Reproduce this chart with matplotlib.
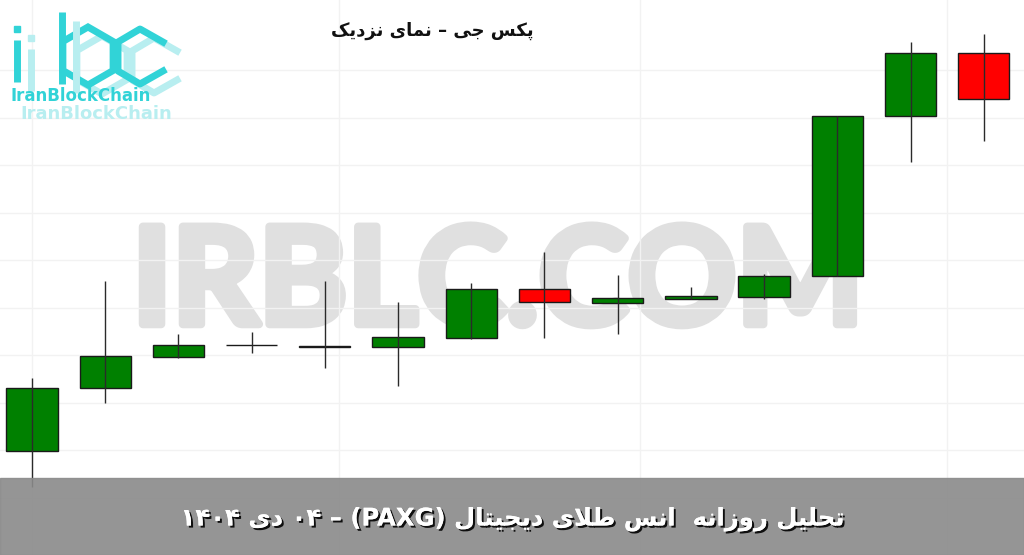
import matplotlib
matplotlib.use("Agg")
import matplotlib.pyplot as plt
import matplotlib.patheffects as pe
from matplotlib.patches import Rectangle, RegularPolygon

# daily PAXG candles (USD)
opens  = [4352.1, 4378.3, 4391.3, 4396.2, 4395.3, 4395.4, 4399.2,
          4419.6, 4413.8, 4415.6, 4416.3, 4425.0, 4491.7, 4517.9]
closes = [4378.3, 4391.7, 4396.3, 4396.3, 4395.7, 4399.6, 4419.6,
          4414.2, 4415.8, 4416.5, 4425.0, 4491.7, 4517.9, 4498.8]
highs  = [4382.5, 4422.9, 4400.8, 4401.7, 4422.9, 4414.2, 4422.1,
          4435.0, 4425.4, 4420.4, 4425.8, 4491.7, 4522.5, 4525.8]
lows   = [4337.1, 4372.1, 4390.8, 4392.9, 4386.7, 4379.2, 4398.8,
          4399.2, 4400.8, 4415.4, 4415.4, 4425.0, 4472.5, 4481.3]

TITLE = "پکس جی – نمای نزدیک"
BANNER_WORDS = "تحلیل روزانه  انس طلای دیجیتال"
BANNER_MONTH = "دی"

UP = "#008000"
DOWN = "#ff0000"
GRID = "#f2f2f2"
CYAN = "#31d3d7"
CYAN_LT = "#b8eef0"
WM = "#e0e0e0"

# --- minimal arabic/persian shaping (matplotlib draws glyphs LTR) ---------
FORMS = {
    "ا": ("\uFE8D", "\uFE8E"), "د": ("\uFEA9", "\uFEAA"),
    "ر": ("\uFEAD", "\uFEAE"), "ز": ("\uFEAF", "\uFEB0"),
    "و": ("\uFEED", "\uFEEE"),
    "ت": ("\uFE95", "\uFE96", "\uFE97", "\uFE98"),
    "ج": ("\uFE9D", "\uFE9E", "\uFE9F", "\uFEA0"),
    "ح": ("\uFEA1", "\uFEA2", "\uFEA3", "\uFEA4"),
    "س": ("\uFEB1", "\uFEB2", "\uFEB3", "\uFEB4"),
    "ط": ("\uFEC1", "\uFEC2", "\uFEC3", "\uFEC4"),
    "ل": ("\uFEDD", "\uFEDE", "\uFEDF", "\uFEE0"),
    "م": ("\uFEE1", "\uFEE2", "\uFEE3", "\uFEE4"),
    "ن": ("\uFEE5", "\uFEE6", "\uFEE7", "\uFEE8"),
    "ه": ("\uFEE9", "\uFEEA", "\uFEEB", "\uFEEC"),
    "پ": ("\uFB56", "\uFB57", "\uFB58", "\uFB59"),
    "ک": ("\uFB8E", "\uFB8F", "\uFB90", "\uFB91"),
    "ی": ("\uFBFC", "\uFBFD", "\uFBFE", "\uFBFF"),
}


def dual(c):
    return c in FORMS and len(FORMS[c]) == 4


def rtl(text):
    out, i, n = [], 0, len(text)
    while i < n:
        c = text[i]
        if c not in FORMS:
            out.append(c)
            i += 1
            continue
        jp = i > 0 and dual(text[i - 1])
        if c == "ل" and i + 1 < n and text[i + 1] == "ا":
            out.append("\uFEFC" if jp else "\uFEFB")
            i += 2
            continue
        jn = dual(c) and i + 1 < n and text[i + 1] in FORMS
        f = FORMS[c]
        out.append(f[3] if jp and jn else f[1] if jp else f[2] if jn else f[0])
        i += 1
    return "".join(reversed(out))


fig = plt.figure(figsize=(10.24, 5.55), dpi=100)
ax = fig.add_axes([0, 0, 1, 1])
idx = list(range(len(opens)))

ax.set_xlim(-0.437, 13.55)
ax.set_ylim(4308.75, 4540)
ax.set_yticks([4491 - 19.8 * k for k in range(9)] + [4511])
ax.set_xticks([0, 4.2, 8.3, 12.5])
ax.grid(True, color=GRID, lw=1, zorder=0)
ax.tick_params(length=0, labelleft=False, labelbottom=False)
for s in ax.spines.values():
    s.set_visible(False)

# big site watermark behind the candles
ax.text(0.129, 0.416, "IRBLC.COM", transform=ax.transAxes, ha="left",
        va="baseline", fontsize=97, fontweight="bold", family="Lato",
        color=WM, zorder=1,
        path_effects=[pe.withStroke(linewidth=6, foreground=WM)])

cols = [UP if c >= o else DOWN for o, c in zip(opens, closes)]
ax.bar(idx, [c - o for o, c in zip(opens, closes)], bottom=opens, width=0.7,
       color=cols, edgecolor="#1a1a1a", lw=1, zorder=3)
ax.vlines(idx, lows, highs, color="#2a2a2a", lw=1, zorder=4)

ax.text(0.422, 0.945, rtl(TITLE), transform=ax.transAxes, ha="center",
        va="center", fontsize=13, fontweight="bold", family="DejaVu Sans",
        color="#111111", zorder=5)

# overlay in pixel coordinates: logo and bottom banner
ov = fig.add_axes([0, 0, 1, 1])
ov.set_xlim(0, 1024)
ov.set_ylim(555, 0)
ov.axis("off")

for dx, dy, col in [(14, 9, CYAN_LT), (0, 0, CYAN)]:
    ov.plot([17 + dx, 17 + dx], [40 + dy, 82 + dy], color=col, lw=5,
            solid_capstyle="butt")
    ov.plot([17 + dx], [29 + dy], "s", color=col, ms=4.5)
    ov.plot([62 + dx, 62 + dx], [12 + dy, 84 + dy], color=col, lw=5,
            solid_capstyle="butt")
    ov.add_patch(RegularPolygon((88 + dx, 56 + dy), 6, radius=29,
                                fill=False, ec=col, lw=5))
    ov.plot([163 + dx, 140 + dx, 118 + dx, 118 + dx, 140 + dx, 163 + dx],
            [42 + dy, 29 + dy, 42 + dy, 71 + dy, 84 + dy, 71 + dy],
            color=col, lw=5)
ov.text(20, 114, "IranBlockChain", fontsize=13, fontweight="bold",
        family="DejaVu Sans", color=CYAN_LT, va="center", ha="left")
ov.text(11, 96, "IranBlockChain", fontsize=12, fontweight="bold",
        family="DejaVu Sans", color=CYAN, va="center", ha="left")

ov.add_patch(Rectangle((0, 478), 1024, 77, color="#8a8a8a", alpha=0.9,
                       zorder=6))
banner = ("۱۴۰۴ " + rtl(BANNER_MONTH) + " ۰۴ – (PAXG) " + rtl(BANNER_WORDS))
ov.text(512, 519, banner, ha="center", va="center", fontsize=17.5,
        fontweight="bold", family="DejaVu Sans", color="white", zorder=7,
        path_effects=[pe.withSimplePatchShadow(offset=(1.5, -1.5),
                                               shadow_rgbFace="black",
                                               alpha=0.9),
                      pe.Normal()])

fig.savefig("out.png", dpi=100)
